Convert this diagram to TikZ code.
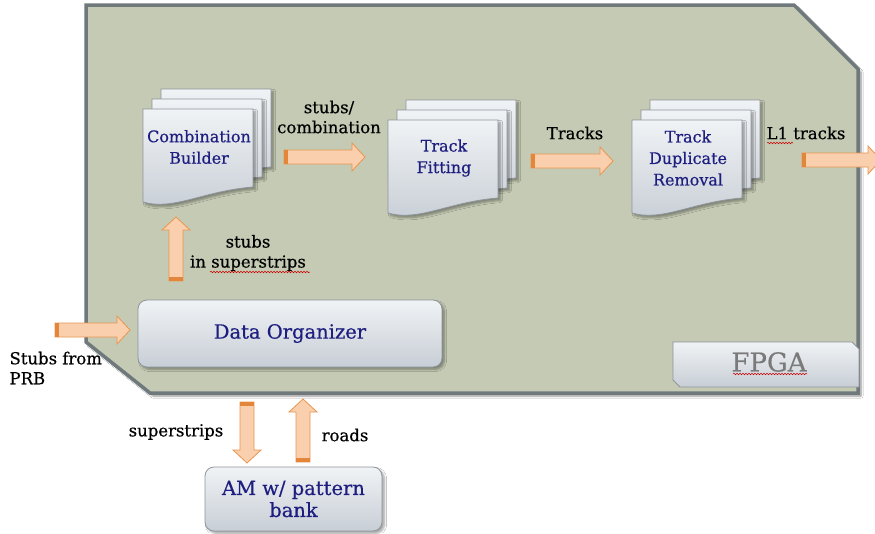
\documentclass[tikz,border=0pt]{standalone}
\usepackage{fontspec}
\setmainfont{DejaVu Serif}[FakeBold=0.5]
\usetikzlibrary{calc,shadows.blur,decorations.pathmorphing}

\definecolor{fpgafill}{HTML}{C4CAB3}
\definecolor{fpgaline}{HTML}{6F797C}
\definecolor{pagetop}{HTML}{F0F3F5}
\definecolor{pagebot}{HTML}{C8CED6}
\definecolor{pageline}{HTML}{8E959B}
\definecolor{navy}{HTML}{1E1E80}
\definecolor{arrowfill}{HTML}{F9CFAE}
\definecolor{arrowline}{HTML}{EA9550}
\definecolor{arrowtail}{HTML}{E4863A}
\definecolor{fpgatext}{HTML}{7A7A7A}

% block arrow from tail #1 to tip #2
\newcommand\blockarrow[2]{%
  \path[barrow] let \p1=(#1), \p2=(#2),
      \n1={atan2(\y2-\y1,\x2-\x1)}, \n2={veclen(\x2-\x1,\y2-\y1)-13} in
    ($(\p1)+(\n1+90:7pt)$) -- ($(\p1)+(\n1:\n2)+(\n1+90:7pt)$)
    -- ($(\p1)+(\n1:\n2)+(\n1+90:14pt)$) -- (\p2)
    -- ($(\p1)+(\n1:\n2)+(\n1-90:14pt)$) -- ($(\p1)+(\n1:\n2)+(\n1-90:7pt)$)
    -- ($(\p1)+(\n1-90:7pt)$) -- cycle;
  \fill[arrowtail] let \p1=(#1), \p2=(#2), \n1={atan2(\y2-\y1,\x2-\x1)} in
    ($(\p1)+(\n1+90:7pt)$) -- ($(\p1)+(\n1:4pt)+(\n1+90:7pt)$)
    -- ($(\p1)+(\n1:4pt)+(\n1-90:7pt)$) -- ($(\p1)+(\n1-90:7pt)$) -- cycle;
}

\tikzset{
  shade/.style={blur shadow={shadow xshift=2.5pt, shadow yshift=-2.5pt, shadow opacity=35, shadow blur steps=5}},
  fpga/.style={fill=fpgafill, draw=fpgaline, line width=3.5pt, line join=miter,
    blur shadow={shadow xshift=3pt, shadow yshift=-3pt, shadow opacity=45, shadow blur steps=6}},
  page/.style={draw=pageline, line width=.8pt, top color=pagetop, bottom color=pagebot, shade},
  rbox/.style={draw=pageline, line width=.8pt, rounded corners=9pt, top color=pagetop, bottom color=pagebot, shade,
    text=navy, font=\fontsize{19.5}{22}\selectfont, align=center, inner sep=0pt},
  doctext/.style={text=navy, font=\fontsize{16}{21.5}\selectfont, align=center},
  lbl/.style={font=\fontsize{16.5}{20}\selectfont, align=center},
  barrow/.style={fill=arrowfill, draw=arrowline, line width=.8pt, line join=miter},
  squiggle/.style={draw=red!80!black, line width=.5pt, decorate,
    decoration={snake, amplitude=.8pt, segment length=3pt}},
  pics/docstack/.style={code={
    \foreach \d in {18,9,0}
      \path[page, shift={(\d,-\d*10/9)}] (0,0) -- (110,0) -- (110,78)
        .. controls (60,82) and (30,102) .. (0,93) -- cycle;
    \node[doctext] (-txt) at (56,38) {#1};
  }},
}

\begin{document}
\begin{tikzpicture}[x=1pt,y=-1pt]
\useasboundingbox[fill=white] (0,0) rectangle (875,533);

% FPGA outline
\path[fpga] (86,5) -- (794,5) -- (858,69) -- (858,393) -- (150,393) -- (86,342) -- cycle;

% processing stages
\pic (cb) at (143,109) {docstack={Combination\\Builder}};
\pic (tf) at (388,120) {docstack={Track\\Fitting}};
\pic (tdr) at (632,120) {docstack={Track\\Duplicate\\Removal}};

\node[rbox, minimum width=304pt, minimum height=67pt] (do) at (290,333.5) {Data Organizer};
\node[rbox, minimum width=177pt, minimum height=64pt] (am) at (293.5,499) {AM w/ pattern\\bank};

% FPGA tag
\path[draw=pageline, line width=.8pt, top color=pagetop, bottom color=pagebot]
  (673,342) -- (852,342) -- (859,349) -- (859,387) -- (680,387) -- (673,380) -- cycle;
\node[text=fpgatext, font=\fontsize{26}{26}\selectfont] (fpgalbl) at (769,362) {FPGA};

% labels
\node[lbl] (lsc) at (329,117) {stubs/\\combination};
\node[lbl] (ltr) at (575,133) {Tracks};
\node[lbl] (ll1) at (806,133) {L1 tracks};
\node[lbl] (lss) at (248,253) {stubs\\in superstrips};
\node[lbl, align=left, anchor=west] (lprb) at (6,368) {Stubs from\\PRB};
\node[lbl] (lsup) at (176,432) {superstrips};
\node[lbl] (lrd) at (345,435) {roads};

% spell-check marks
\draw[squiggle] (767,143) -- (793,143);
\draw[squiggle] (210,272) -- (310,272);
\draw[squiggle] (733,374) -- (807,374);

% data flow
\coordinate (a1s) at (284,157); \coordinate (a1e) at (365,157);
\coordinate (a2s) at (531,161); \coordinate (a2e) at (613,161);
\coordinate (a3s) at (802,160); \coordinate (a3e) at (881,160);
\coordinate (a4s) at (176,281); \coordinate (a4e) at (176,217);
\coordinate (a5s) at (55,330);  \coordinate (a5e) at (130,330);
\coordinate (a6s) at (247,402); \coordinate (a6e) at (247,463);
\coordinate (a7s) at (303,462); \coordinate (a7e) at (303,399);
\foreach \a in {1,...,7}
  \blockarrow{a\a s}{a\a e};

\end{tikzpicture}
\end{document}
